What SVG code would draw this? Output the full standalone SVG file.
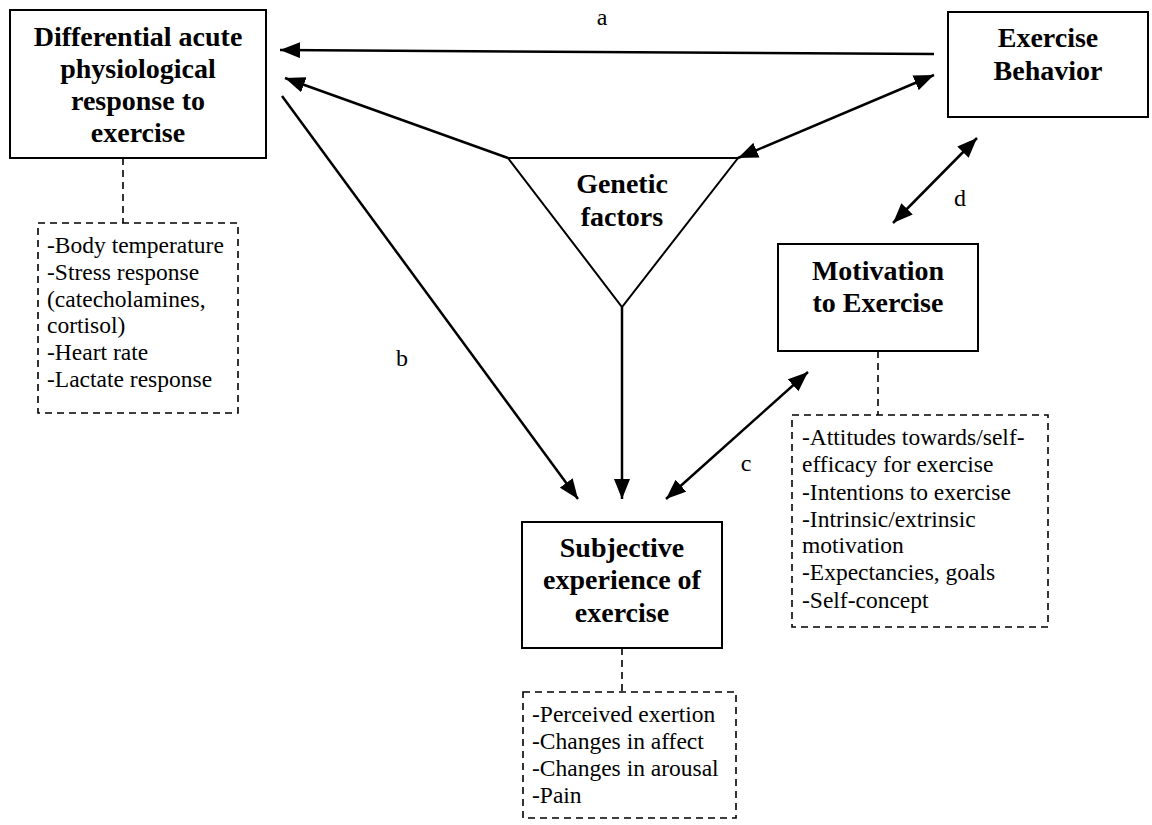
<svg xmlns="http://www.w3.org/2000/svg" width="1152" height="825" viewBox="0 0 1152 825">
<style>
.box{fill:#fff;stroke:#000;stroke-width:2}
.dbox{fill:none;stroke:#000;stroke-width:1.6;stroke-dasharray:7 5}
.dl{stroke:#000;stroke-width:1.6;stroke-dasharray:7 5;fill:none}
.t{font-weight:bold;font-size:28px;text-anchor:middle;fill:#000}
.s{font-size:23.5px;fill:#000}
.lbl{font-size:24px;text-anchor:middle;fill:#000}
.ar{stroke:#000;stroke-width:2.5;fill:none}
</style>
<defs>
<marker id="ah" markerUnits="userSpaceOnUse" markerWidth="22" markerHeight="16" refX="20" refY="8" orient="auto-start-reverse">
<path d="M0,0 L20,8 L0,16 Z" fill="#000"/>
</marker>
</defs>
<g id="connectors">
<line class="ar" x1="934" y1="54" x2="280" y2="50" marker-end="url(#ah)"/>
<line class="ar" x1="508" y1="158" x2="285" y2="78" marker-end="url(#ah)"/>
<line class="ar" x1="738" y1="158" x2="934" y2="75" marker-start="url(#ah)" marker-end="url(#ah)"/>
<line class="ar" x1="622" y1="307" x2="622" y2="499" marker-end="url(#ah)"/>
<line class="ar" x1="282" y1="96" x2="578" y2="499" marker-end="url(#ah)"/>
<line class="ar" x1="666" y1="499" x2="808" y2="372" marker-start="url(#ah)" marker-end="url(#ah)"/>
<line class="ar" x1="893" y1="223" x2="977" y2="138" marker-start="url(#ah)" marker-end="url(#ah)"/>
<line class="dl" x1="123" y1="158" x2="123" y2="223"/>
<line class="dl" x1="878" y1="351" x2="878" y2="415"/>
<line class="dl" x1="622" y1="648" x2="622" y2="692"/>
</g>
<g font-family="'Liberation Serif', 'Times New Roman', serif">
<g id="label-a"><text class="lbl" x="602" y="25">a</text></g>
<g id="label-b"><text class="lbl" x="402" y="366">b</text></g>
<g id="label-c"><text class="lbl" x="746" y="471">c</text></g>
<g id="label-d"><text class="lbl" x="960" y="206">d</text></g>
<g id="physio">
<rect class="box" x="10" y="10" width="256" height="148"/>
<text class="t" x="138" y="46">Differential acute</text>
<text class="t" x="138" y="78">physiological</text>
<text class="t" x="138" y="110">response to</text>
<text class="t" x="138" y="142">exercise</text>
</g>
<g id="physio-list">
<rect class="dbox" x="38" y="223" width="200" height="190"/>
<text class="s" x="47" y="253">-Body temperature</text>
<text class="s" x="47" y="280">-Stress response</text>
<text class="s" x="47" y="307">(catecholamines,</text>
<text class="s" x="47" y="333">cortisol)</text>
<text class="s" x="47" y="360">-Heart rate</text>
<text class="s" x="47" y="387">-Lactate response</text>
</g>
<g id="behavior">
<rect class="box" x="948" y="12" width="200" height="105"/>
<text class="t" x="1048" y="47">Exercise</text>
<text class="t" x="1048" y="80">Behavior</text>
</g>
<g id="genetic">
<polygon points="508,158 738,158 622,307" fill="#fff" stroke="#000" stroke-width="2"/>
<text class="t" x="622" y="193">Genetic</text>
<text class="t" x="622" y="226">factors</text>
</g>
<g id="motivation">
<rect class="box" x="778" y="244" width="200" height="107"/>
<text class="t" x="878" y="280">Motivation</text>
<text class="t" x="878" y="312">to Exercise</text>
</g>
<g id="motivation-list">
<rect class="dbox" x="792" y="415" width="256" height="212"/>
<text class="s" x="802" y="445">-Attitudes towards/self-</text>
<text class="s" x="802" y="472">efficacy for exercise</text>
<text class="s" x="802" y="500">-Intentions to exercise</text>
<text class="s" x="802" y="527">-Intrinsic/extrinsic</text>
<text class="s" x="802" y="553">motivation</text>
<text class="s" x="802" y="580">-Expectancies, goals</text>
<text class="s" x="802" y="608">-Self-concept</text>
</g>
<g id="subjective">
<rect class="box" x="522" y="522" width="200" height="126"/>
<text class="t" x="622" y="557">Subjective</text>
<text class="t" x="622" y="589">experience of</text>
<text class="t" x="622" y="622">exercise</text>
</g>
<g id="subjective-list">
<rect class="dbox" x="523" y="692" width="213" height="126"/>
<text class="s" x="532" y="722">-Perceived exertion</text>
<text class="s" x="532" y="749">-Changes in affect</text>
<text class="s" x="532" y="776">-Changes in arousal</text>
<text class="s" x="532" y="803">-Pain</text>
</g>
</g>
</svg>
